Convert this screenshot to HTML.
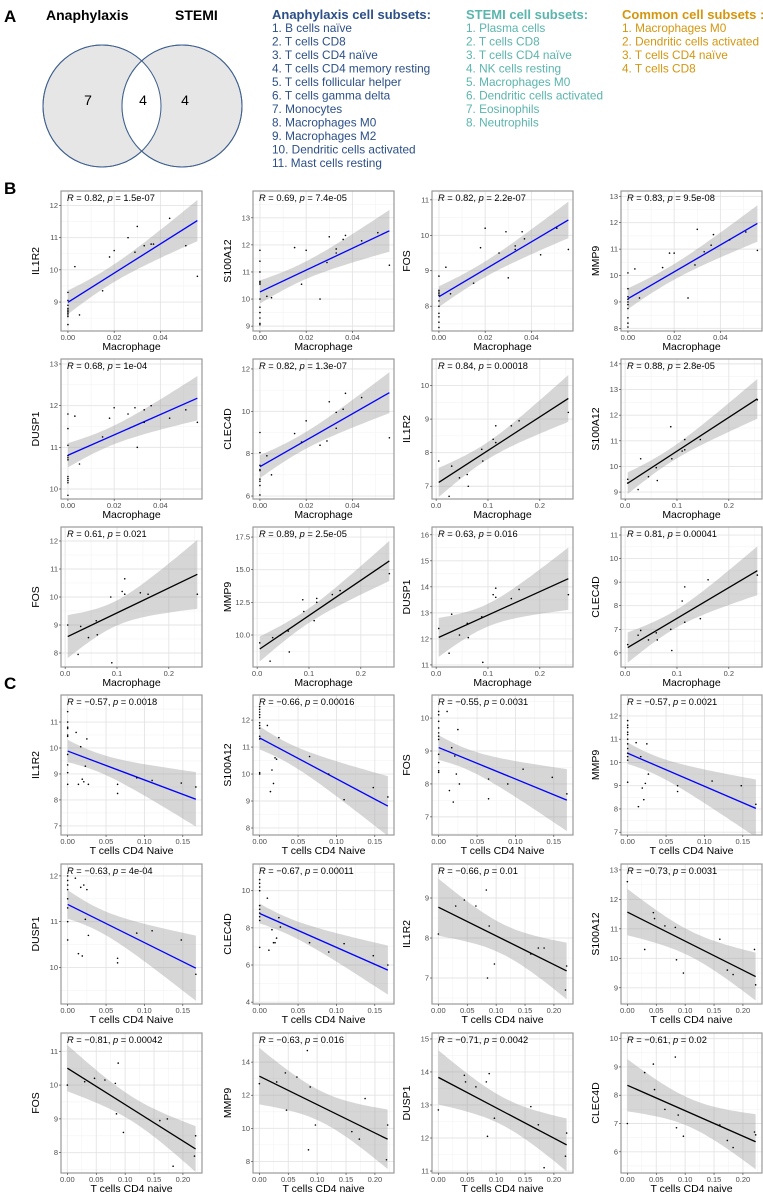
<!DOCTYPE html>
<html><head><meta charset="utf-8">
<style>
body{margin:0;background:#fff;}
svg{display:block;font-family:"Liberation Sans",Arial,sans-serif;}
</style></head>
<body>
<svg id="fig" width="763" height="1194" viewBox="0 0 763 1194" xmlns="http://www.w3.org/2000/svg">
<g>
<text x="4" y="22" font-size="17" font-weight="bold">A</text>
<text x="46" y="20" font-size="14" font-weight="bold">Anaphylaxis</text>
<text x="175" y="20" font-size="14" font-weight="bold">STEMI</text>
<ellipse cx="102" cy="106" rx="59" ry="61" fill="#e6e6e6" stroke="#3d5f8f" stroke-width="1"/>
<ellipse cx="182" cy="106" rx="60" ry="61" fill="#e6e6e6" stroke="#3d5f8f" stroke-width="1"/>
<clipPath id="vclip"><ellipse cx="102" cy="106" rx="59" ry="61"/></clipPath>
<ellipse cx="182" cy="106" rx="60" ry="61" fill="#fff" clip-path="url(#vclip)"/>
<ellipse cx="102" cy="106" rx="59" ry="61" fill="none" stroke="#3d5f8f" stroke-width="1"/>
<ellipse cx="182" cy="106" rx="60" ry="61" fill="none" stroke="#3d5f8f" stroke-width="1"/>
<text x="88" y="105" font-size="14" text-anchor="middle">7</text>
<text x="143" y="105" font-size="14" text-anchor="middle">4</text>
<text x="185" y="105" font-size="14" text-anchor="middle">4</text>
<g id="lists"></g>
</g>
<text x="4" y="194" font-size="17" font-weight="bold">B</text>
<text x="4" y="689" font-size="17" font-weight="bold">C</text>
<g id="plots"></g>
</svg>
<script>
// ---------- Panel A lists ----------
const anaList=["1. B cells naïve","2. T cells CD8","3. T cells CD4 naïve","4. T cells CD4 memory resting","5. T cells follicular helper","6. T cells gamma delta","7. Monocytes","8. Macrophages M0","9. Macrophages M2","10. Dendritic cells activated","11. Mast cells resting"];
const stemiList=["1. Plasma cells","2. T cells CD8","3. T cells CD4 naïve","4. NK cells resting","5. Macrophages M0","6. Dendritic cells activated","7. Eosinophils","8. Neutrophils"];
const commonList=["1. Macrophages M0","2. Dendritic cells activated","3. T cells CD4 naïve","4. T cells CD8"];

// ---------- Panel B/C data ----------
const b1x=[0,0,0,0,0,0,0,0,0,0,0.003,0.005,0.015,0.018,0.02,0.026,0.029,0.03,0.033,0.036,0.037,0.044,0.051,0.056];
const b1y=[9.3,9.05,8.9,8.8,8.75,8.7,8.65,8.6,8.55,8.3,10.1,8.6,9.35,10.4,10.6,11.0,10.55,11.35,10.75,10.8,10.8,11.6,10.75,9.8];
const b2x=[0,0,0,0,0,0,0,0,0,0,0,0,0.003,0.005,0.015,0.018,0.02,0.026,0.029,0.03,0.033,0.033,0.036,0.037,0.044,0.051,0.056];
const b2y=[11.8,11.4,11.0,10.65,10.6,10.55,10.0,9.7,9.5,9.3,9.1,9.05,10.1,10.05,11.9,10.55,11.8,10.0,11.35,12.3,11.85,11.7,12.2,12.35,12.15,12.45,11.25];
const b3x=[0,0,0,0,0,0,0,0,0,0,0,0.003,0.005,0.015,0.018,0.02,0.026,0.029,0.03,0.033,0.033,0.036,0.037,0.044,0.051,0.056];
const b3y=[8.85,8.45,8.4,8.35,8.3,8.15,8.0,7.8,7.7,7.55,7.4,9.1,8.35,8.65,9.65,10.2,9.5,10.1,8.8,9.7,9.6,10.1,9.9,9.45,10.2,9.6];
const b4x=[0,0,0,0,0,0,0,0,0,0,0.003,0.005,0.015,0.018,0.02,0.026,0.029,0.03,0.033,0.036,0.037,0.044,0.051,0.056];
const b4y=[10.1,9.5,9.2,9.1,9.0,8.9,8.75,8.4,8.2,8.05,10.25,9.15,10.3,10.85,10.85,9.15,10.4,11.75,10.9,11.15,11.55,11.35,11.65,10.95];
const b5x=[0,0,0,0,0,0,0,0,0,0,0,0.003,0.005,0.015,0.018,0.02,0.026,0.029,0.03,0.033,0.033,0.036,0.044,0.051,0.056];
const b5y=[11.8,11.45,11.05,10.8,10.75,10.7,10.3,10.25,10.2,10.15,9.85,11.75,10.6,11.25,11.7,11.95,11.8,11.95,11.0,11.9,11.6,12.0,11.7,11.9,11.6];
const b6x=[0,0,0,0,0,0,0,0,0,0.003,0.005,0.015,0.018,0.02,0.026,0.029,0.03,0.033,0.033,0.036,0.037,0.044,0.056];
const b6y=[9.0,8.05,7.45,7.25,7.2,6.8,6.7,6.5,6.05,7.9,7.0,8.95,8.55,9.55,8.4,8.6,10.45,9.95,9.2,10.1,10.85,10.65,8.75];
const b7x=[0.005,0.025,0.03,0.045,0.06,0.062,0.088,0.09,0.11,0.115,0.115,0.145,0.16,0.255];
const b7y=[7.75,6.7,7.6,7.25,7.35,7.0,8.1,7.75,8.4,8.8,8.3,8.8,8.95,9.2];
const b8x=[0.005,0.005,0.025,0.03,0.045,0.06,0.062,0.088,0.09,0.11,0.115,0.115,0.145,0.255];
const b8y=[9.5,9.35,9.1,10.3,9.6,9.95,9.45,11.55,10.3,10.6,11.05,10.65,11.05,12.6];
const b9x=[0.005,0.025,0.03,0.045,0.06,0.062,0.088,0.09,0.11,0.115,0.115,0.145,0.16,0.255];
const b9y=[9.0,7.95,8.95,8.55,9.15,8.65,10.0,7.65,10.2,10.65,10.1,10.15,10.1,10.1];
const b10x=[0.005,0.025,0.03,0.045,0.06,0.062,0.088,0.09,0.11,0.115,0.115,0.145,0.16,0.255];
const b10y=[9.4,8.0,9.8,10.0,10.3,8.7,12.7,11.8,11.1,12.5,12.8,13.1,13.4,14.7];
const b11x=[0.005,0.025,0.03,0.045,0.06,0.062,0.088,0.09,0.11,0.115,0.115,0.145,0.16,0.255];
const b11y=[12.4,11.45,12.95,12.15,12.6,12.05,12.85,11.1,13.7,13.95,13.6,13.55,13.9,13.7];
const b12x=[0.005,0.025,0.03,0.045,0.06,0.062,0.088,0.09,0.11,0.115,0.115,0.145,0.16,0.255];
const b12y=[6.35,6.75,6.95,6.55,6.85,6.55,7.0,6.1,8.2,8.8,7.3,7.45,9.1,9.3];

const c1x=[0,0,0,0,0,0,0,0,0,0,0.011,0.014,0.017,0.019,0.021,0.023,0.025,0.027,0.065,0.065,0.09,0.11,0.148,0.167];
const c1y=[11.4,11.0,10.8,10.75,10.5,10.45,9.75,9.35,9.05,8.6,10.6,8.6,10.05,8.8,8.7,9.3,10.35,8.6,8.6,8.25,8.85,8.75,8.65,8.5];
const c2x=[0,0,0,0,0,0,0,0,0,0,0,0,0.01,0.014,0.016,0.018,0.02,0.022,0.025,0.065,0.09,0.11,0.148,0.167];
const c2y=[12.5,12.4,12.3,12.2,12.1,11.9,11.8,11.7,11.4,11.3,10.05,10.0,11.8,9.35,10.15,9.65,10.6,10.55,11.35,10.65,10.0,9.05,9.5,9.15];
const c3x=[0,0,0,0,0,0,0,0,0,0,0,0.011,0.014,0.017,0.019,0.021,0.023,0.025,0.027,0.065,0.065,0.09,0.11,0.148,0.167];
const c3y=[10.2,10.1,9.9,9.7,9.55,9.45,9.35,8.9,8.65,8.4,8.35,10.2,7.8,9.1,7.45,8.85,8.3,9.65,8.0,8.15,7.55,8.0,8.45,8.2,7.7];
const c4x=[0,0,0,0,0,0,0,0,0,0,0,0,0.011,0.014,0.017,0.019,0.021,0.023,0.025,0.027,0.065,0.065,0.11,0.148,0.167];
const c4y=[11.8,11.6,11.5,11.3,11.2,11.0,10.8,10.6,10.4,10.25,10.1,9.15,10.85,8.1,10.25,8.9,8.4,9.1,10.8,9.5,9.0,8.75,9.2,9.0,8.2];
const c5x=[0,0,0,0,0,0,0,0,0.01,0.014,0.017,0.019,0.021,0.023,0.025,0.027,0.065,0.065,0.09,0.11,0.148,0.167];
const c5y=[12.0,11.9,11.8,11.7,11.5,11.3,11.0,10.6,11.95,10.3,11.75,10.25,11.8,11.05,11.7,10.7,10.2,10.1,10.75,10.8,10.6,9.85];
const c6x=[0,0,0,0,0,0,0,0,0,0,0.01,0.012,0.016,0.018,0.02,0.022,0.025,0.027,0.065,0.09,0.11,0.148,0.167];
const c6y=[10.6,10.4,10.2,10.0,9.2,9.0,8.8,8.6,8.4,6.95,9.6,6.8,7.9,7.2,7.2,7.45,8.55,8.05,7.2,6.7,7.15,6.5,6.0];
const c7x=[0,0.03,0.045,0.065,0.083,0.085,0.088,0.097,0.16,0.173,0.183,0.22,0.222];
const c7y=[8.1,8.8,8.95,8.8,9.2,7.0,8.3,7.35,7.6,7.75,7.75,6.7,7.3];
const c8x=[0,0.03,0.045,0.047,0.065,0.083,0.085,0.097,0.16,0.173,0.183,0.22,0.222];
const c8y=[12.6,10.3,11.55,11.35,11.1,11.05,9.95,9.5,10.65,9.6,9.45,10.3,9.1];
const c9x=[0,0.03,0.047,0.065,0.083,0.085,0.088,0.097,0.16,0.173,0.183,0.22,0.222];
const c9y=[10.0,10.1,10.2,10.15,10.05,9.15,10.65,8.6,8.95,9.0,7.6,7.9,8.5];
const c10x=[0,0.03,0.045,0.047,0.065,0.083,0.085,0.088,0.097,0.16,0.173,0.183,0.22,0.222];
const c10y=[12.7,12.8,13.35,11.1,13.1,14.7,8.7,12.5,10.2,9.8,9.35,11.8,8.1,10.2];
const c11x=[0,0.045,0.047,0.065,0.083,0.085,0.088,0.097,0.16,0.173,0.183,0.22,0.222];
const c11y=[12.85,13.9,13.7,13.55,13.7,12.05,13.95,12.6,12.95,12.4,11.1,11.45,12.15];
const c12x=[0,0.03,0.045,0.047,0.065,0.083,0.085,0.088,0.097,0.16,0.173,0.183,0.22,0.222];
const c12y=[7.0,8.8,9.1,8.2,7.5,9.35,6.85,7.3,6.55,6.95,6.4,6.15,6.7,6.6];

const geneNames=["IL1R2","S100A12","FOS","MMP9","DUSP1","CLEC4D","IL1R2","S100A12","FOS","MMP9","DUSP1","CLEC4D"];
const bStats=["0.82|1.5e-07","0.69|7.4e-05","0.82|2.2e-07","0.83|9.5e-08","0.68|1e-04","0.82|1.3e-07","0.84|0.00018","0.88|2.8e-05","0.61|0.021","0.89|2.5e-05","0.63|0.016","0.81|0.00041"];
const cStats=["−0.57|0.0018","−0.66|0.00016","−0.55|0.0031","−0.57|0.0021","−0.63|4e-04","−0.67|0.00011","−0.66|0.01","−0.73|0.0031","−0.81|0.00042","−0.63|0.016","−0.71|0.0042","−0.61|0.02"];
const yLims=[[8.1,12.45],[8.82,13.99],[7.3,11.25],[7.9,13.2],[9.76,13.12],[5.86,12.47],[6.62,10.79],[8.73,14.19],[7.5,12.5],[7.55,18.27],[10.92,16.3],[5.4,11.34],
             [6.65,12.04],[7.74,12.93],[6.45,10.7],[6.88,12.9],[9.2,12.26],[3.9,11.44],[6.35,9.85],[8.45,13.2],[7.4,11.54],[7.3,15.76],[10.94,15.18],[5.25,10.2]];
const yTicks=[[9,10,11,12],[9,10,11,12,13],[8,9,10,11],[8,9,10,11,12,13],[10,11,12,13],[6,8,10,12],[7,8,9,10],[9,10,11,12,13,14],[8,9,10,11,12],[10,12.5,15,17.5],[11,12,13,14,15,16],[6,7,8,9,10,11],
              [7,8,9,10,11],[8,9,10,11,12],[7,8,9,10],[7,8,9,10,11,12],[10,11,12],[4,6,8,10],[7,8,9],[9,10,11,12,13],[8,9,10,11],[8,10,12,14],[11,12,13,14,15],[6,7,8,9,10]];
const xTicksM1=[0,0.02,0.04];
const xTicksM2=[0,0.1,0.2];
const xTicksN1=[0,0.05,0.1,0.15];
const xTicksN2=[0,0.05,0.1,0.15,0.2];

// ---------- layout (not data) ----------
const colX=[61,253,432,621];
const rowY=[191,359,527,695,864,1033];
const PW=141, PH=140;

const NS="http://www.w3.org/2000/svg";
function mk(tag,attrs,parent){const e=document.createElementNS(NS,tag);for(const k in attrs)e.setAttribute(k,attrs[k]);if(parent)parent.appendChild(e);return e;}

const lists=document.getElementById('lists');
function drawList(items,title,x,color,nm){
  const g=mk('g',{},lists);
  
  
  const t=mk('text',{x:x,y:19,'font-size':13,'font-weight':'bold',fill:color},g);
  t.textContent=title;
  
  
  items.forEach((s,i)=>{
    const e=mk('text',{x:x,y:32+i*13.5,'font-size':11.8,fill:color},g);
    e.textContent=s;
    
    
  });
}
drawList(anaList,"Anaphylaxis cell subsets:",272,"#2b4f86","anaphylaxis-list");
drawList(stemiList,"STEMI cell subsets:",466,"#5ab5ad","stemi-list");
drawList(commonList,"Common cell subsets :",622,"#d4960f","common-list");

function fmtTick(v,dec){return v.toFixed(dec);}

let clipId=0;
function panel(col,row,xs,ys,xlim,ylim,xticks,xdec,yticks,ydec,xlabel,ylabel,stat,color,nm){
  const root=document.getElementById('plots');
  const g=mk('g',{},root);
  
  
  const x0=colX[col], y0=rowY[row];
  const sx=v=>x0+(v-xlim[0])/(xlim[1]-xlim[0])*PW;
  const sy=v=>y0+PH-(v-ylim[0])/(ylim[1]-ylim[0])*PH;
  mk('rect',{x:x0,y:y0,width:PW,height:PH,fill:'#fff'},g);
  const cid='c'+(clipId++);
  const cp=mk('clipPath',{id:cid},g); mk('rect',{x:x0,y:y0,width:PW,height:PH},cp);
  const gg=mk('g',{'clip-path':'url(#'+cid+')'},g);
  const xs_=xticks[1]-xticks[0], ys_=yticks[1]-yticks[0];
  for(let i=-1;i<=xticks.length;i++){const v=xticks[0]+(i+0.5)*xs_;mk('line',{x1:sx(v),x2:sx(v),y1:y0,y2:y0+PH,stroke:'#f3f3f3','stroke-width':0.6},gg);}
  for(let i=-1;i<=yticks.length;i++){const v=yticks[0]+(i+0.5)*ys_;mk('line',{y1:sy(v),y2:sy(v),x1:x0,x2:x0+PW,stroke:'#f3f3f3','stroke-width':0.6},gg);}
  xticks.forEach(v=>mk('line',{x1:sx(v),x2:sx(v),y1:y0,y2:y0+PH,stroke:'#e4e4e4','stroke-width':0.9},gg));
  yticks.forEach(v=>mk('line',{y1:sy(v),y2:sy(v),x1:x0,x2:x0+PW,stroke:'#e4e4e4','stroke-width':0.9},gg));
  const n=xs.length; let mx=0,my=0; for(let i=0;i<n;i++){mx+=xs[i];my+=ys[i];} mx/=n;my/=n;
  let sxx=0,sxy=0; for(let i=0;i<n;i++){sxx+=(xs[i]-mx)**2;sxy+=(xs[i]-mx)*(ys[i]-my);}
  const b=sxy/sxx, a=my-b*mx; let sse=0; for(let i=0;i<n;i++){sse+=(ys[i]-a-b*xs[i])**2;}
  const s=Math.sqrt(sse/(n-2)); const t=2.07+ (n<20?0.1:0);
  const xmin=Math.min(...xs), xmax=Math.max(...xs);
  const up=[],lo=[];
  for(let k=0;k<=40;k++){const xv=xmin+(xmax-xmin)*k/40;const fit=a+b*xv;const se=s*Math.sqrt(1/n+(xv-mx)**2/sxx);up.push(sx(xv).toFixed(1)+','+sy(fit+t*se).toFixed(1));lo.unshift(sx(xv).toFixed(1)+','+sy(fit-t*se).toFixed(1));}
  const band=mk('polygon',{points:up.concat(lo).join(' '),fill:'#999',opacity:0.4},gg);
  
  
  const ln=mk('line',{x1:sx(xmin),y1:sy(a+b*xmin),x2:sx(xmax),y2:sy(a+b*xmax),stroke:color,'stroke-width':1.3},gg);
  
  
  for(let i=0;i<n;i++){
    const p=mk('circle',{cx:sx(xs[i]),cy:sy(ys[i]),r:0.8,fill:'#000'},gg);
    
    
  }
  mk('rect',{x:x0,y:y0,width:PW,height:PH,fill:'none',stroke:'#9a9a9a','stroke-width':1.2},g);
  xticks.forEach(v=>{
    mk('line',{x1:sx(v),x2:sx(v),y1:y0+PH,y2:y0+PH+2,stroke:'#333','stroke-width':0.6},g);
    const tx=mk('text',{x:sx(v),y:y0+PH+9,'font-size':7.5,fill:'#4d4d4d','text-anchor':'middle'},g);
    tx.textContent=fmtTick(v,xdec);
    
    
  });
  yticks.forEach(v=>{
    mk('line',{x1:x0-2,x2:x0,y1:sy(v),y2:sy(v),stroke:'#333','stroke-width':0.6},g);
    const ty=mk('text',{x:x0-3,y:sy(v)+2.5,'font-size':7.5,fill:'#4d4d4d','text-anchor':'end'},g);
    ty.textContent=fmtTick(v,ydec);
    
    
  });
  const xl=mk('text',{x:x0+PW/2,y:y0+PH+19,'font-size':10.5,fill:'#000','text-anchor':'middle'},g);
  xl.textContent=xlabel;
  
  
  const yx=x0-22, yy=y0+PH/2;
  const yl=mk('text',{x:yx,y:yy,'font-size':10.5,fill:'#000','text-anchor':'middle',transform:'rotate(-90 '+yx+' '+yy+')'},g);
  yl.textContent=ylabel;
  
  
  const [r,pv]=stat.split('|');
  const st=mk('text',{x:x0+6,y:y0+10,'font-size':9.3,fill:'#000'},g);
  
  
  const t1=mk('tspan',{'font-style':'italic'},st); t1.textContent='R';
  const t2=mk('tspan',{},st); t2.textContent=' = '+r+', ';
  const t3=mk('tspan',{'font-style':'italic'},st); t3.textContent='p';
  const t4=mk('tspan',{},st); t4.textContent=' = '+pv;
}

const bData=[[b1x,b1y],[b2x,b2y],[b3x,b3y],[b4x,b4y],[b5x,b5y],[b6x,b6y],[b7x,b7y],[b8x,b8y],[b9x,b9y],[b10x,b10y],[b11x,b11y],[b12x,b12y]];
const cData=[[c1x,c1y],[c2x,c2y],[c3x,c3y],[c4x,c4y],[c5x,c5y],[c6x,c6y],[c7x,c7y],[c8x,c8y],[c9x,c9y],[c10x,c10y],[c11x,c11y],[c12x,c12y]];
for(let i=0;i<12;i++){
  const small=i<6;
  const xlim=small?[-0.003,0.058]:[-0.008,0.264];
  panel(i%4,Math.floor(i/4),bData[i][0],bData[i][1],xlim,yLims[i],small?xTicksM1:xTicksM2,small?2:1,yTicks[i],i===9?1:0,"Macrophage",geneNames[i],bStats[i],small?'#0000ff':'#000','panel-b-'+geneNames[i].toLowerCase()+'-'+(i+1));
}
for(let i=0;i<12;i++){
  const small=i<6;
  const xlim=small?[-0.0087,0.175]:[-0.011,0.233];
  panel(i%4,3+Math.floor(i/4),cData[i][0],cData[i][1],xlim,yLims[12+i],small?xTicksN1:xTicksN2,2,yTicks[12+i],0,small?"T cells CD4 Naive":"T cells CD4 naive",geneNames[i],cStats[i],small?'#0000ff':'#000','panel-c-'+geneNames[i].toLowerCase()+'-'+(i+1));
}
</script>
</body></html>
